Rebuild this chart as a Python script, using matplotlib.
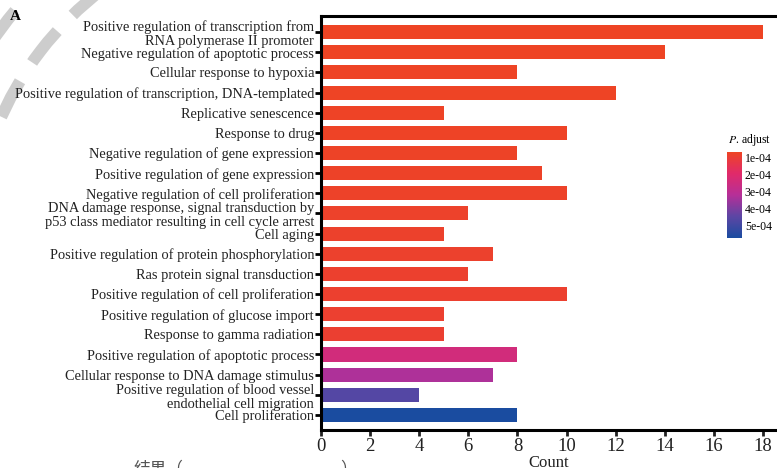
import numpy as np
import matplotlib
matplotlib.use("Agg")
import matplotlib.pyplot as plt
import matplotlib.colors as mcolors
from matplotlib.patches import Arc
from matplotlib.transforms import IdentityTransform

plt.rcParams['font.family'] = ['Liberation Serif', 'DejaVu Serif']
plt.rcParams['mathtext.fontset'] = 'stix'

terms = [
    "Positive regulation of transcription from\nRNA polymerase II promoter",
    "Negative regulation of apoptotic process",
    "Cellular response to hypoxia",
    "Positive regulation of transcription, DNA-templated",
    "Replicative senescence",
    "Response to drug",
    "Negative regulation of gene expression",
    "Positive regulation of gene expression",
    "Negative regulation of cell proliferation",
    "DNA damage response, signal transduction by\np53 class mediator resulting in cell cycle arrest",
    "Cell aging",
    "Positive regulation of protein phosphorylation",
    "Ras protein signal transduction",
    "Positive regulation of cell proliferation",
    "Positive regulation of glucose import",
    "Response to gamma radiation",
    "Positive regulation of apoptotic process",
    "Cellular response to DNA damage stimulus",
    "Positive regulation of blood vessel\nendothelial cell migration",
    "Cell proliferation",
]
counts = [18, 14, 8, 12, 5, 10, 8, 9, 10, 6, 5, 7, 6, 10, 5, 5, 8, 7, 4, 8]
p_adjust = [0.70e-4, 0.70e-4, 0.72e-4, 0.72e-4, 0.74e-4, 0.75e-4, 0.76e-4,
            0.78e-4, 0.80e-4, 0.82e-4, 0.84e-4, 0.86e-4, 0.88e-4, 0.90e-4,
            0.92e-4, 0.95e-4, 2.4e-4, 3.3e-4, 4.6e-4, 5.7e-4]
cbar_ticks = [1e-4, 2e-4, 3e-4, 4e-4, 5e-4]

cmap = mcolors.LinearSegmentedColormap.from_list(
    "padj", ["#EE4424", "#E02A6A", "#B62F98", "#5C46A4", "#1A4CA0"])
norm = mcolors.Normalize(vmin=min(p_adjust), vmax=max(p_adjust))

fig = plt.figure(figsize=(7.77, 4.68), dpi=100)

# grey dashed arcs in the upper-left corner (drawn first, behind everything)
for r, t1, t2 in [(327, 127, 158), (372, 140, 168)]:
    arc = Arc((300, 218), 2 * r, 2 * r, theta1=t1, theta2=t2,
              transform=IdentityTransform(), color='#CDCDCD', lw=8.5,
              linestyle=(0, (3.4, 1.9)), zorder=0)
    fig.add_artist(arc)

ax = fig.add_axes([321/777, 38/468, 456/777, 414/468])
ax.patch.set_alpha(0)

y = np.arange(len(terms))
ax.barh(y, counts, height=0.7, color=cmap(norm(p_adjust)))
ax.set_yticks(y)
ax.set_yticklabels(terms, fontsize=10.4, linespacing=1.12, color='#222222')
ax.set_ylim(19.75, -0.8)
ax.set_xlim(0, 18.57)
ax.set_xticks(np.arange(0, 19, 2))
ax.tick_params(axis='x', labelsize=13.5, length=4, width=2, pad=2, colors='#222222')
ax.tick_params(axis='y', length=4, width=2, pad=1)
for s in ['left', 'bottom', 'top']:
    ax.spines[s].set_linewidth(2.2)
ax.spines['right'].set_visible(False)
ax.set_xlabel("Count", fontsize=12, labelpad=0, color='#222222')

# colour scale for the adjusted p-values
cax = fig.add_axes([727/777, (468-238)/468, 15/777, 86/468])
sm = plt.cm.ScalarMappable(norm=norm, cmap=cmap)
cb = fig.colorbar(sm, cax=cax, ticks=cbar_ticks)
cb.outline.set_visible(False)
cax.invert_yaxis()
cax.tick_params(length=0, labelsize=8.5, pad=2)
cax.set_yticklabels(["1e-04", "2e-04", "3e-04", "4e-04", "5e-04"])
fig.text(750/777, 1 - 140/468, r"$\it{P}$. adjust", fontsize=8.5,
         ha='center', va='center')

fig.text(10/777, 1 - 16/468, "A", fontsize=11, fontweight='bold', va='center')

fig.text(133/777, -9/468, "结果（", fontsize=12, family=['Noto Sans CJK SC'],
         color='#555555', va='bottom')
fig.text(340/777, -9/468, "）", fontsize=12, family=['Noto Sans CJK SC'],
         color='#555555', va='bottom')

fig.savefig("out.png", dpi=100)
